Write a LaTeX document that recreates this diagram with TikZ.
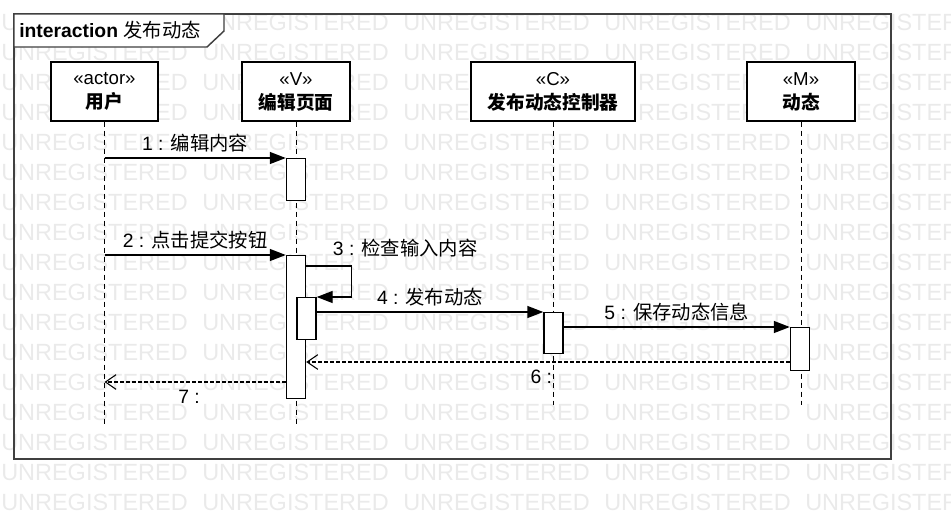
\documentclass[tikz,border=0pt]{standalone}
\usepackage{fontspec}
\setmainfont{Liberation Sans}
\newfontfamily\zh{Noto Sans CJK SC}
\usepackage{tikz}
\usetikzlibrary{arrows.meta,positioning,calc}
\definecolor{marco}{HTML}{404040}
\definecolor{grisagua}{HTML}{EAEAEA}

\begin{document}
\begin{tikzpicture}[x=0.75pt,y=-0.75pt,
  every node/.style={font=\fontsize{14.5}{18}\selectfont},
  marca/.style={anchor=west,inner sep=0pt,text=grisagua,
                font=\fontsize{17.6}{20}\selectfont},
  cabeza/.style={draw,line width=1.1pt,fill=white,align=center,
                 font=\fontsize{14}{18}\selectfont,
                 minimum height=59*0.75pt,inner sep=2pt},
  activ/.style={draw,line width=1.1pt,fill=white,anchor=north,
                minimum width=19*0.75pt,inner sep=0pt},
  linea/.style={line width=0.75pt,dash pattern=on 3.75pt off 3pt},
  mensaje/.style={line width=1.1pt,-{Triangle[length=12pt,width=9pt]}},
  retorno/.style={line width=1.1pt,dash pattern=on 2.5pt off 2pt,
                  -{Straight Barb[length=8pt,width=11pt,line width=0.8pt]}},
  etiqueta/.style={inner sep=0pt}
]
\useasboundingbox (0,0) rectangle (951,519);
% watermark
\foreach \f in {0,...,16} {
  \foreach \c in {0,...,4} {
    \node[marca] (w\f-\c) at (1+\c*201,22.5+\f*30) {UNREGISTERED};
  }
}
% frame
\draw[marco,line width=1.5pt] (14,14) rectangle (891,459);
\draw[marco,line width=1.1pt,fill=white]
  (14,14) -- (224,14) -- (224,31) -- (207,47) -- (14,47) -- cycle;
\node[anchor=west,inner sep=0pt] (titulo) at (19,30.5)
  {\textbf{interaction} {\zh 发布动态}};
% lifelines
\foreach \x/\w/\fin/\nom/\est [count=\c] in
  {104.5/107/425/用户/actor,296/108/425/编辑页面/V,
   553/164/405/发布动态控制器/C,801/108/405/动态/M} {
  \node[cabeza,minimum width=\w*0.75pt] (h\c) at (\x,91.5)
    {«\est»\\{\zh\bfseries \nom}};
  \coordinate (f\c) at (\x,\fin);
  \draw[linea] (h\c) -- (f\c);
}
% activations
\node[activ,minimum height=42*0.75pt] (a1) at (296,158) {};
\node[activ,minimum height=143*0.75pt] (a2) at (296,255) {};
\node[activ,minimum height=42*0.75pt] (a3) at (306.5,297) {};
\node[activ,minimum height=41*0.75pt] (a4) at (553.5,312) {};
\node[activ,minimum height=43*0.75pt] (a5) at (800,327) {};
% messages
\draw[mensaje] (h1 |- a1.north) --
  node[etiqueta,midway,yshift=11.5pt] (e1) {1 : {\zh 编辑内容}} (a1.north west);
\draw[mensaje] (h1 |- a2.north) --
  node[etiqueta,midway,yshift=11.5pt] (e2) {2 : {\zh 点击提交按钮}} (a2.north west);
\draw[mensaje] ($(a2.north east)+(0,11)$) --
  node[etiqueta,at start,anchor=west,xshift=19.5pt,yshift=13.5pt] (e3) {3 : {\zh 检查输入内容}}
  ++(45,0) |- (a3.north east);
\draw[mensaje] (a3.east |- a4.north) --
  node[etiqueta,midway,yshift=11.5pt] (e4) {4 : {\zh 发布动态}} (a4.north west);
\draw[mensaje] (a4.east |- a5.north) --
  node[etiqueta,midway,yshift=11.5pt] (e5) {5 : {\zh 保存动态信息}} (a5.north west);
\coordinate (r6) at ($(a5.north west)+(0,35)$);
\draw[retorno] (r6) --
  node[etiqueta,midway,yshift=-11.5pt,xshift=-5pt] (e6) {6 :} (a2.east |- r6);
\coordinate (r7) at ($(a2.north west)+(0,127)$);
\draw[retorno] (r7) --
  node[etiqueta,midway,yshift=-11.5pt,xshift=-4.5pt] (e7) {7 :} (h1 |- r7);
\end{tikzpicture}
\end{document}
